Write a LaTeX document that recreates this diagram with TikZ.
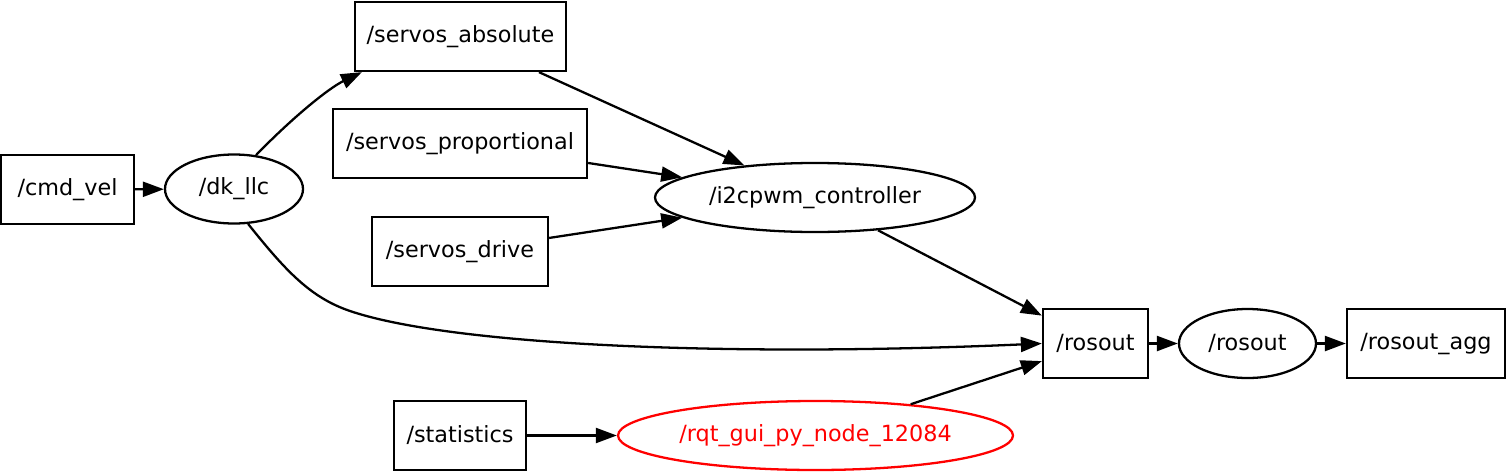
\documentclass[tikz,border=0pt]{standalone}
\usepackage{fontspec}
\setmainfont{DejaVu Sans}
\usepackage{tikz}
\usetikzlibrary{arrows.meta,positioning,calc,shapes.geometric}

\begin{document}
\begin{tikzpicture}[
  topic/.style={draw,line width=1.3pt,minimum height=1.38cm,inner sep=0pt,font=\fontsize{12.7}{15}\selectfont},
  proc/.style={draw,ellipse,line width=1.3pt,minimum height=1.38cm,inner sep=0pt,font=\fontsize{12.7}{15}\selectfont},
  arr/.style={-{Triangle[length=0.42cm,width=0.3cm]},line width=1.3pt}]
\useasboundingbox (0,0) rectangle (30.14,-9.44);
\node[topic,minimum width=2.66cm] (cmdvel) at (1.35,-3.79) {/cmd\_vel};
\node[proc,minimum width=2.76cm] (dkllc) at (4.68,-3.78) {/dk\_llc};
\node[topic,minimum width=4.22cm] (servosabs) at (9.21,-0.73) {/servos\_absolute};
\node[topic,minimum width=5.08cm] (servosprop) at (9.20,-2.87) {/servos\_proportional};
\node[topic,minimum width=3.52cm] (servosdrive) at (9.20,-5.03) {/servos\_drive};
\node[proc,minimum width=6.40cm] (i2cpwm) at (16.30,-3.95) {/i2cpwm\_controller};
\node[topic,minimum width=2.10cm] (rosouttopic) at (21.91,-6.87) {/rosout};
\node[proc,minimum width=2.74cm] (rosoutnode) at (24.95,-6.87) {/rosout};
\node[topic,minimum width=3.16cm] (rosoutagg) at (28.52,-6.87) {/rosout\_agg};
\node[topic,minimum width=2.64cm] (statistics) at (9.20,-8.71) {/statistics};
\node[proc,draw=red,text=red,minimum width=7.90cm] (rqtgui) at (16.31,-8.71) {/rqt\_gui\_py\_node\_12084};
\draw[arr] (cmdvel) -- (dkllc);
\draw[arr] (dkllc.57) .. controls (5.9,-2.3) and (6.6,-1.75) .. ($(servosabs.south west)+(0.16,0)$);
\draw[arr] (dkllc.-68) .. controls (5.7,-5.4) and (6.2,-5.95) .. (7.0,-6.22) .. controls (9.0,-6.9) and (14.5,-7.15) .. (rosouttopic.west);
\draw[arr] (servosabs) -- (i2cpwm);
\draw[arr] (servosprop) -- (i2cpwm);
\draw[arr] (servosdrive) -- (i2cpwm);
\draw[arr] (i2cpwm) -- (rosouttopic);
\draw[arr] (statistics) -- (rqtgui);
\draw[arr] (rqtgui) -- (rosouttopic);
\draw[arr] (rosouttopic) -- (rosoutnode);
\draw[arr] (rosoutnode) -- (rosoutagg);
\end{tikzpicture}
\end{document}
